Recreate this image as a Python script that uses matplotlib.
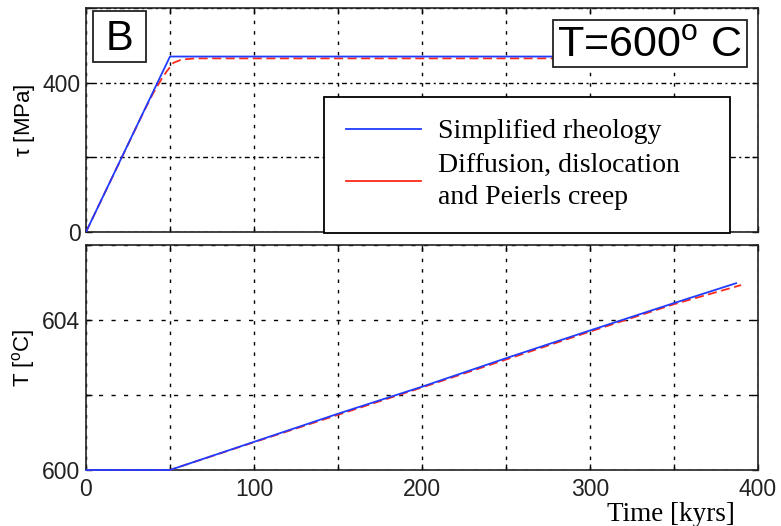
import matplotlib
matplotlib.use("Agg")
import matplotlib.pyplot as plt
from matplotlib.lines import Line2D
from matplotlib.patches import Rectangle

# stress panel (tau in MPa vs time in kyrs)
t_simple = [0, 50, 388]
tau_simple = [0, 470, 470]
t_full = [0, 35, 40, 45, 48, 52, 57, 65, 390]
tau_full = [0, 328, 372, 410, 430, 453, 462, 465, 465]

# temperature panel (T in deg C vs time in kyrs)
tT_simple = [0, 50, 100, 150, 200, 250, 300, 350, 387]
T_simple = [600, 600, 600.75, 601.5, 602.22, 602.98, 603.72, 604.45, 604.98]
tT_full = [0, 50, 100, 200, 300, 350, 390]
T_full = [600, 600, 600.74, 602.2, 603.69, 604.42, 604.93]

xticks = [0, 100, 200, 300, 400]
xgrid = [0, 50, 100, 150, 200, 250, 300, 350, 400]
tau_ticks = [0, 200, 400, 600]
tau_labels = ["0", "", "400", ""]
T_ticks = [600, 602, 604, 606]
T_labels = ["600", "", "604", ""]

blue = "#1f3cff"
red = "#ff2a1a"
sans = "Liberation Sans"
serif = "Liberation Serif"

fig = plt.figure(figsize=(7.81, 5.26), dpi=100)
ax1 = fig.add_axes([0.1101, 0.5589, 0.8604, 0.4259])
ax2 = fig.add_axes([0.1101, 0.1065, 0.8604, 0.4278])


def style_axes(ax, yticks, ylabels):
    ax.set_xlim(0, 400)
    ax.set_xticks(xgrid)
    ax.set_xticklabels([str(v) if v in xticks else "" for v in xgrid])
    ax.set_yticks(yticks)
    ax.set_yticklabels(ylabels)
    ax.tick_params(direction="in", top=True, right=True, length=4, width=1,
                   labelsize=16.5)
    ax.tick_params(axis="x", pad=6)
    ax.tick_params(axis="y", pad=4)
    for lab in ax.get_xticklabels() + ax.get_yticklabels():
        lab.set_fontfamily(sans)
        lab.set_color("#222222")
    for s in ax.spines.values():
        s.set_linewidth(1.2)
        s.set_color("#222222")
    ax.xaxis.grid(True, color="black", linewidth=1.0, linestyle=(0, (2.5, 5)))
    ax.set_axisbelow(True)
    ax.yaxis.set_label_coords(-0.073, 0.5)


# top panel
ax1.plot(t_full, tau_full, color=red, linestyle=(0, (5, 2.5)), linewidth=1.3, zorder=3)
ax1.plot(t_simple, tau_simple, color=blue, linewidth=1.3, zorder=3)
ax1.set_ylim(0, 600)
style_axes(ax1, tau_ticks, tau_labels)
ax1.yaxis.grid(True, color="black", linewidth=1.0, linestyle=(0, (1.5, 2.5, 3.5, 2.5)))
ax1.set_xticklabels([])
ax1.set_ylabel(r"$\mathregular{\tau}$ [MPa]", fontsize=16, fontfamily=sans)

# panel letter and temperature boxes
ax1.add_patch(Rectangle((0.0104, 0.759), 0.0789, 0.228, transform=ax1.transAxes,
                        fc="white", ec="#222222", lw=1.3, zorder=4))
ax1.text(0.0499, 0.8125, "B", transform=ax1.transAxes, fontsize=30, fontfamily=sans,
         va="baseline", ha="center", zorder=4.5)
ax1.add_patch(Rectangle((0.695, 0.7366), 0.2887, 0.2098, transform=ax1.transAxes,
                        fc="white", ec="#222222", lw=1.3, zorder=4))
ax1.text(0.701, 0.78125, r"T=600$\mathregular{^o}$ C", transform=ax1.transAxes,
         fontsize=31, fontfamily=sans, va="baseline", ha="left", zorder=4.5)

handles = [Line2D([], [], color=blue, linewidth=1.3),
           Line2D([], [], color=red, linewidth=1.3)]
leg = ax1.legend(handles, ["Simplified rheology", "Diffusion, dislocation\nand Peierls creep"],
                 loc="upper left", bbox_to_anchor=(0.354, 0.604, 0.604, 0), mode="expand",
                 prop={"family": serif, "size": 20}, frameon=True, fancybox=False,
                 edgecolor="black", framealpha=1, borderpad=0.8, labelspacing=0.3,
                 handlelength=2.7, handletextpad=0.6, borderaxespad=0)
leg.get_frame().set_linewidth(1.3)
leg.get_texts()[1].set_linespacing(1.4)
leg.set_zorder(5)

# bottom panel
ax2.plot(tT_full, T_full, color=red, linestyle=(0, (5, 2.5)), linewidth=1.3,
         zorder=3, clip_on=False)
ax2.plot(tT_simple, T_simple, color=blue, linewidth=1.3, zorder=3, clip_on=False)
ax2.set_ylim(600, 606)
style_axes(ax2, T_ticks, T_labels)
ax2.yaxis.grid(True, color="black", linewidth=1.0, linestyle=(0, (3, 6)))
ax2.set_ylabel(r"T [$\mathregular{^o}$C]", fontsize=16, fontfamily=sans)

fig.text(0.941, 0.0095, "Time [kyrs]", fontsize=19.5, fontfamily=serif, ha="right", va="baseline")

fig.savefig("out.png", dpi=100)
